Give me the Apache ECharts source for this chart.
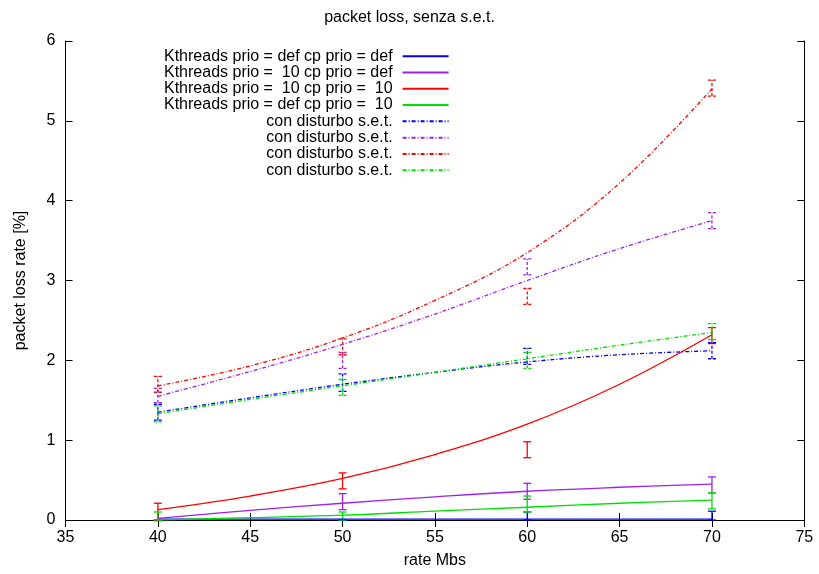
<!DOCTYPE html>
<html>
<head>
<meta charset="utf-8">
<script src="https://cdn.jsdelivr.net/npm/echarts@6/dist/echarts.min.js"></script>
<style>html,body{margin:0;padding:0;background:#fff}#c{width:819px;height:574px}</style>
</head>
<body>
<div id="c"></div>
<script>
// ---- data ----
const xTicks = [35, 40, 45, 50, 55, 60, 65, 70, 75];
const curveX = [40, 45, 50, 55, 60, 65, 70];
const pointX = [40, 50, 60, 70];

const fitBlue   = [0.01, 0.01, 0.01, 0.01, 0.01, 0.01, 0.01];
const fitPurple = [0.02, 0.12, 0.21, 0.29, 0.36, 0.41, 0.45];
const fitRed    = [0.13, 0.30, 0.52, 0.82, 1.20, 1.70, 2.32];
const fitGreen  = [0.00, 0.03, 0.06, 0.11, 0.16, 0.21, 0.25];
const fitBlueD   = [1.35, 1.53, 1.70, 1.85, 1.98, 2.07, 2.12];
const fitPurpleD = [1.55, 1.86, 2.20, 2.58, 3.00, 3.40, 3.75];
const fitRedD    = [1.68, 1.93, 2.28, 2.75, 3.35, 4.22, 5.40];
const fitGreenD  = [1.33, 1.51, 1.68, 1.85, 2.02, 2.19, 2.35];

const meanBlue   = [0.00, 0.00, 0.05, 0.055];  const errBlue   = [0.00, 0.00, 0.05, 0.055];
const meanPurple = [0.00, 0.23, 0.36, 0.44];   const errPurple = [0.00, 0.10, 0.10, 0.10];
const meanRed    = [0.10, 0.49, 0.88, 2.31];   const errRed    = [0.11, 0.10, 0.10, 0.10];
const meanGreen  = [0.05, 0.05, 0.20, 0.24];   const errGreen  = [0.05, 0.05, 0.10, 0.10];
const meanBlueD   = [1.35, 1.72, 2.05, 2.12];  const errBlueD   = [0.10, 0.11, 0.10, 0.10];
const meanPurpleD = [1.56, 2.00, 3.17, 3.75];  const errPurpleD = [0.09, 0.10, 0.10, 0.10];
const meanRedD    = [1.70, 2.17, 2.80, 5.41];  const errRedD    = [0.10, 0.10, 0.10, 0.10];
const meanGreenD  = [1.33, 1.66, 2.00, 2.36];  const errGreenD  = [0.10, 0.10, 0.10, 0.10];

const names = [
  'Kthreads prio = def cp prio = def',
  'Kthreads prio =  10 cp prio = def',
  'Kthreads prio =  10 cp prio =  10',
  'Kthreads prio = def cp prio =  10',
  'con disturbo s.e.t.',
  'con disturbo s.e.t.\u200B',
  'con disturbo s.e.t.\u200B\u200B',
  'con disturbo s.e.t.\u200B\u200B\u200B'
];

// ---- styles ----
const BLUE = '#0000ff', PURPLE = '#a020f0', RED = '#ff0000', GREEN = '#00e000';
const FONT = "'Liberation Sans', Arial, sans-serif";
const DASH = [4, 2, 1, 2];

function lineSeries(name, fit, color, dashed) {
  return {
    type: 'line', name: name, smooth: 0.4, symbol: 'none',
    data: curveX.map((x, i) => [x, fit[i]]),
    lineStyle: { color: color, width: 1.3, type: dashed ? DASH : 'solid' },
    itemStyle: { color: color },
    z: 3
  };
}
function errSeries(name, mean, err, color, dashed) {
  return {
    type: 'custom', name: name + ' err',
    data: pointX.map((x, i) => [x, mean[i] - err[i], mean[i] + err[i]]),
    encode: { x: 0, y: [1, 2] },
    renderItem: function (params, api) {
      const x = api.value(0);
      const p1 = api.coord([x, api.value(1)]);
      const p2 = api.coord([x, api.value(2)]);
      const hw = 4;
      const st = { stroke: color, lineWidth: 1.3, lineDash: dashed ? [3, 2] : null, fill: null };
      return {
        type: 'group',
        children: [
          { type: 'line', shape: { x1: p1[0], y1: p1[1], x2: p2[0], y2: p2[1] }, style: st },
          { type: 'line', shape: { x1: p1[0] - hw, y1: p1[1], x2: p1[0] + hw, y2: p1[1] }, style: st },
          { type: 'line', shape: { x1: p2[0] - hw, y1: p2[1], x2: p2[0] + hw, y2: p2[1] }, style: st }
        ]
      };
    },
    z: 3
  };
}

const chart = echarts.init(document.getElementById('c'), null, { renderer: 'canvas' });
const axisCommon = {
  type: 'value',
  axisLine: { show: true, lineStyle: { color: '#000', width: 1 } },
  axisTick: { show: true, inside: true, length: 7, lineStyle: { color: '#000' } },
  splitLine: { show: false },
  axisLabel: { color: '#000', fontFamily: FONT, fontSize: 16 }
};
chart.setOption({
  animation: false,
  backgroundColor: '#fff',
  title: {
    text: 'packet loss, senza s.e.t.', left: 'center', top: 5,
    textStyle: { fontFamily: FONT, fontSize: 16, fontWeight: 'normal', color: '#000' }
  },
  legend: {
    orient: 'vertical', align: 'right', left: 164, top: 48, padding: 0,
    itemWidth: 46, itemHeight: 12, itemGap: 0,
    data: names,
    itemStyle: { opacity: 0 },
    textStyle: { fontFamily: FONT, fontSize: 16, color: '#000', lineHeight: 16.3, padding: [0, 5, 0, 0] }
  },
  grid: { left: 65.5, right: 14.7, top: 41, bottom: 50.3 },
  xAxis: [
    Object.assign({}, axisCommon, {
      min: xTicks[0], max: xTicks[xTicks.length - 1], interval: 5, position: 'bottom',
      name: 'rate Mbs', nameLocation: 'middle', nameGap: 33,
      nameTextStyle: { fontFamily: FONT, fontSize: 16, color: '#000' },
      axisLabel: Object.assign({}, axisCommon.axisLabel, { margin: 10 })
    }),
    Object.assign({}, axisCommon, {
      min: xTicks[0], max: xTicks[xTicks.length - 1], interval: 5, position: 'top',
      axisLabel: { show: false }
    })
  ],
  yAxis: [
    Object.assign({}, axisCommon, {
      min: 0, max: 6, interval: 1, position: 'left',
      name: 'packet loss rate [%]', nameLocation: 'middle', nameGap: 37, nameRotate: 90,
      nameTextStyle: { fontFamily: FONT, fontSize: 16, color: '#000' },
      axisLabel: Object.assign({}, axisCommon.axisLabel, { margin: 10 })
    }),
    Object.assign({}, axisCommon, {
      min: 0, max: 6, interval: 1, position: 'right',
      axisLabel: { show: false }
    })
  ],
  series: [
    lineSeries(names[0], fitBlue, BLUE, false),
    lineSeries(names[1], fitPurple, PURPLE, false),
    lineSeries(names[2], fitRed, RED, false),
    lineSeries(names[3], fitGreen, GREEN, false),
    lineSeries(names[4], fitBlueD, BLUE, true),
    lineSeries(names[5], fitPurpleD, PURPLE, true),
    lineSeries(names[6], fitRedD, RED, true),
    lineSeries(names[7], fitGreenD, GREEN, true),
    errSeries('e0', meanBlue, errBlue, BLUE, false),
    errSeries('e1', meanPurple, errPurple, PURPLE, false),
    errSeries('e2', meanRed, errRed, RED, false),
    errSeries('e3', meanGreen, errGreen, GREEN, false),
    errSeries('e4', meanBlueD, errBlueD, BLUE, true),
    errSeries('e5', meanPurpleD, errPurpleD, PURPLE, true),
    errSeries('e6', meanRedD, errRedD, RED, true),
    errSeries('e7', meanGreenD, errGreenD, GREEN, true)
  ]
});
</script>
</body>
</html>
